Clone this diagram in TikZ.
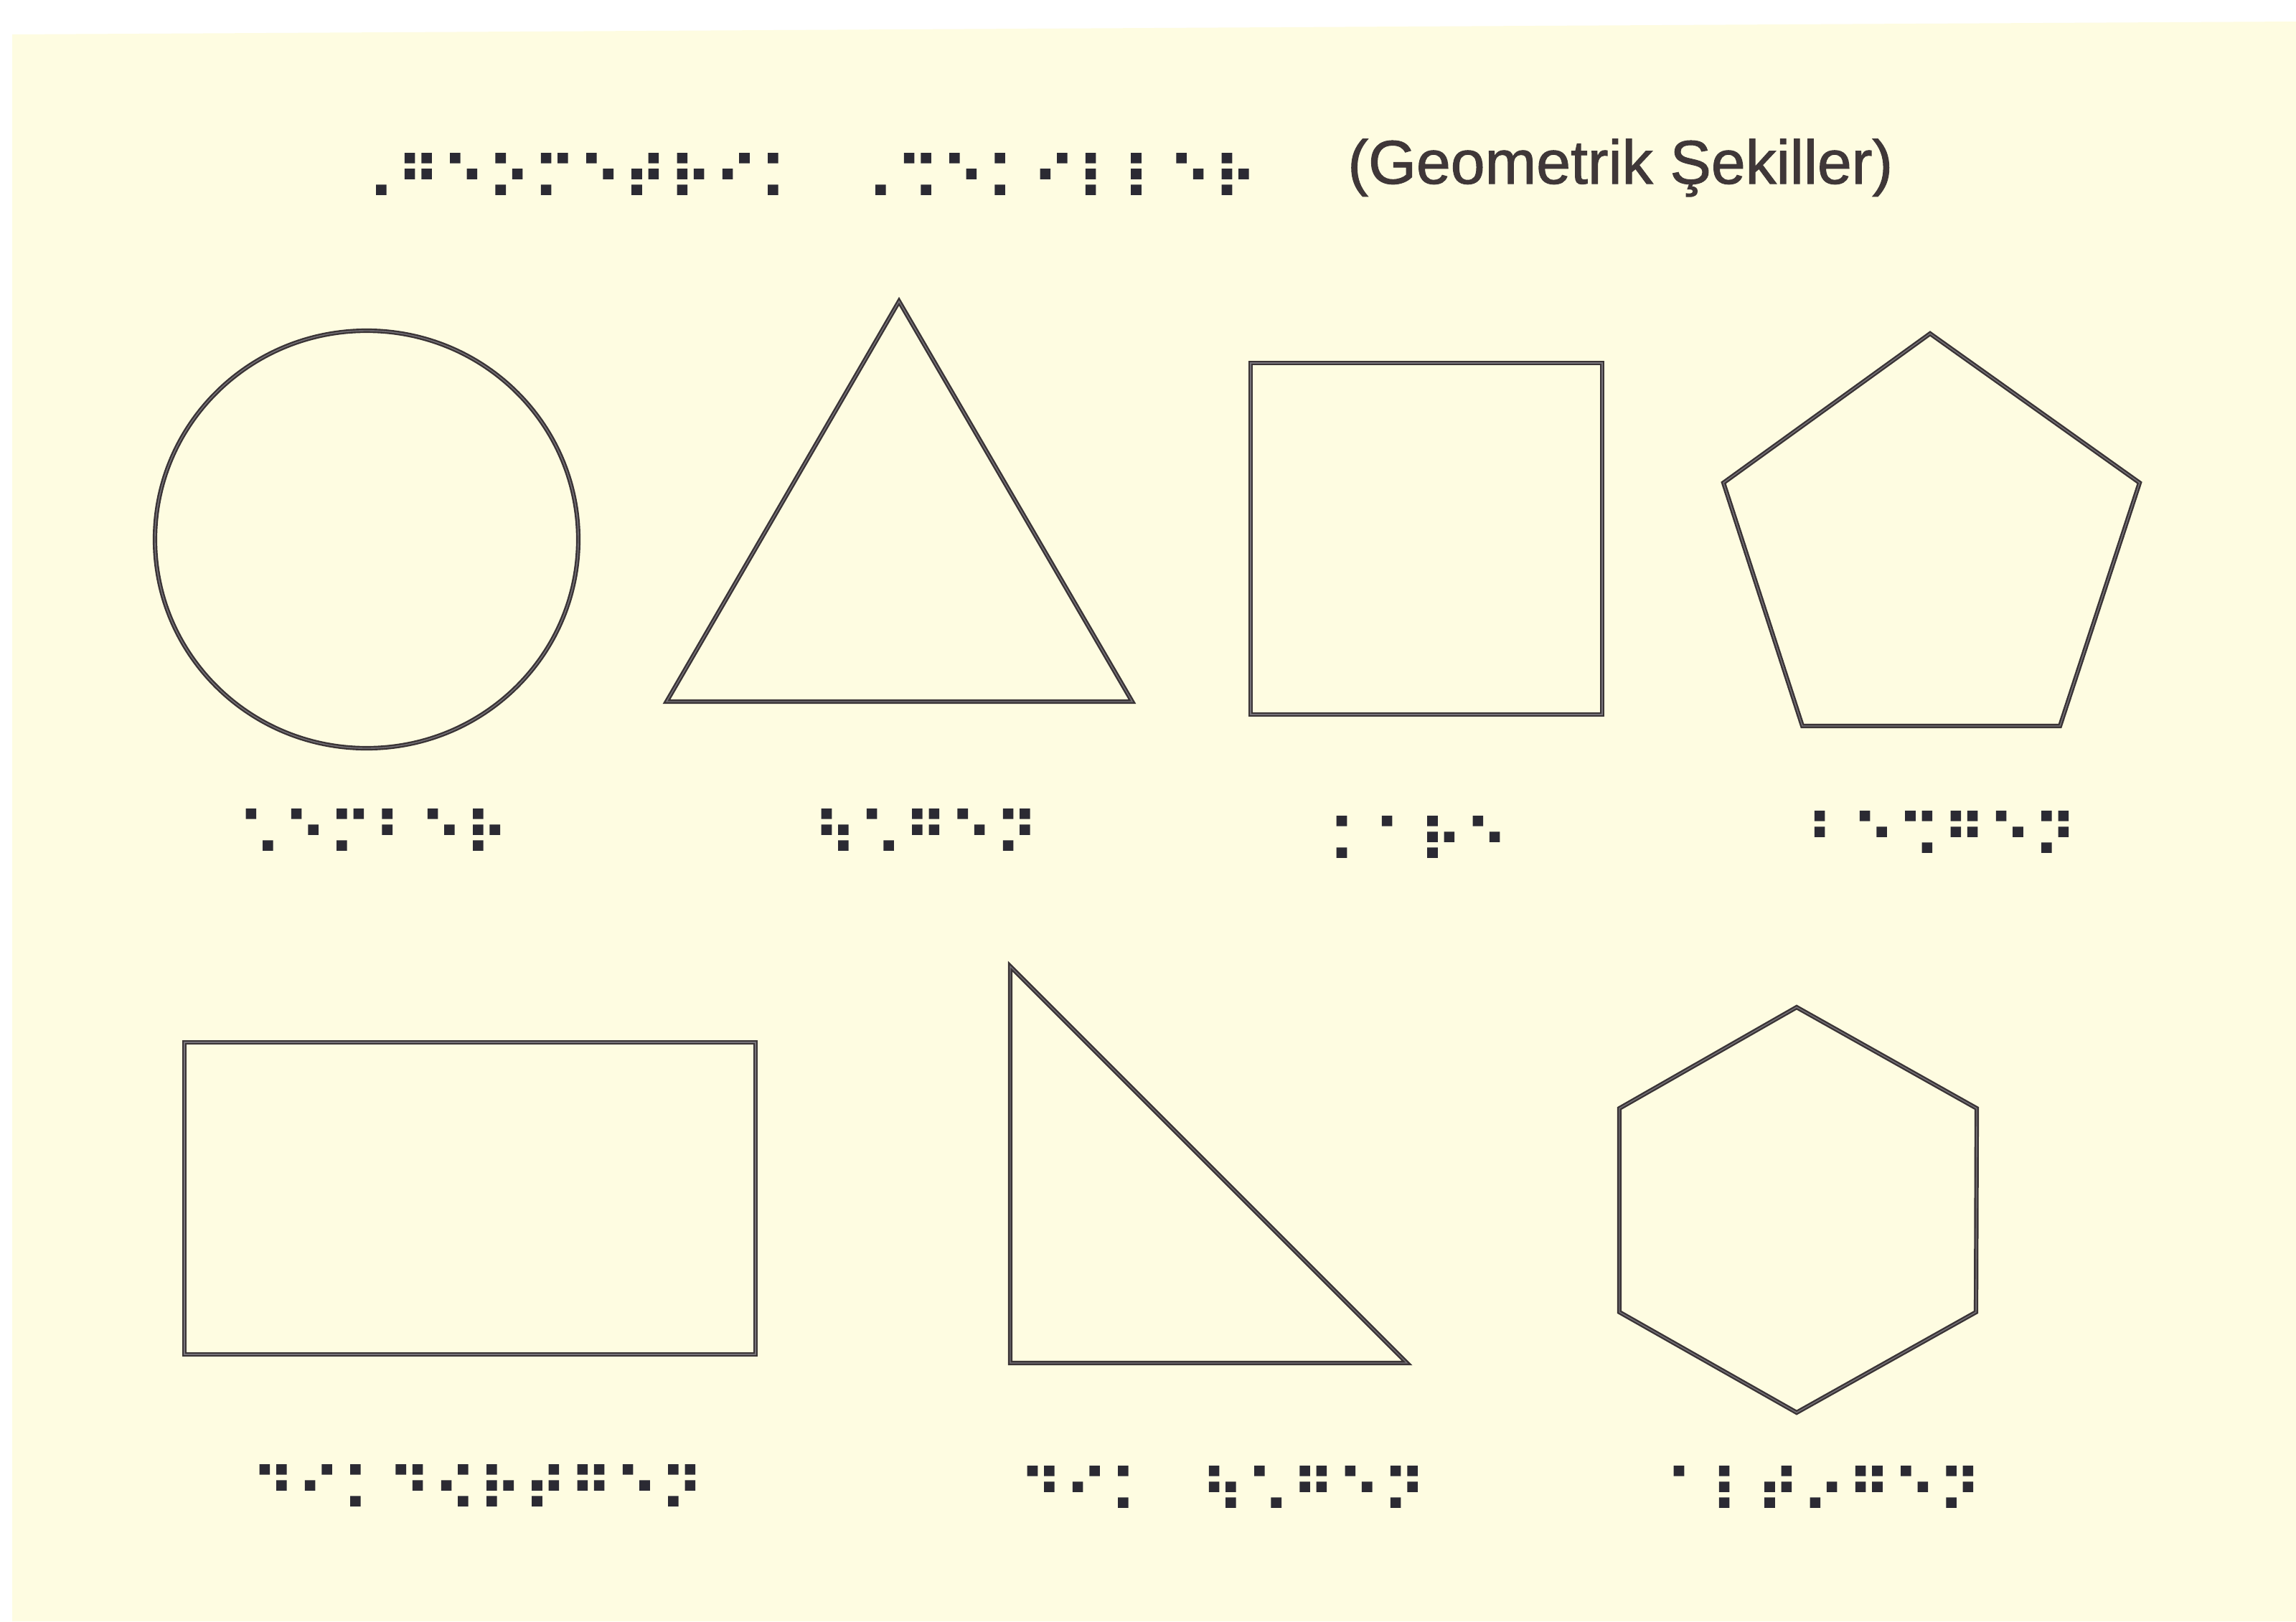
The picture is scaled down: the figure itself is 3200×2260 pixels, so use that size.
\documentclass[tikz,border=0pt]{standalone}
\usepackage{fontspec}
\setmainfont{Liberation Sans}
\newfontfamily\brlfont{DejaVu Sans}[FakeBold=3.5]
\newfontfamily\titlefont{Liberation Sans}[FakeBold=1.2]
\definecolor{paper}{HTML}{FEFCE1}
\definecolor{linedark}{HTML}{3A3436}
\definecolor{linemid}{HTML}{77737A}
\definecolor{titlecol}{HTML}{3F3738}
\definecolor{dotcol}{HTML}{2B2A33}
\newlength\brlpitch
\setlength\brlpitch{31.65pt}
\def\brl#1{\brlloop#1\relax}
\def\brlloop#1{\ifx\relax#1\else\makebox[\brlpitch][l]{#1}\expandafter\brlloop\fi}
\tikzset{
  shapeline/.style={draw=linedark, line width=1.2pt, double=linemid, double distance=0.7pt, line join=miter},
  brltext/.style={anchor=base west, inner sep=0pt, text=dotcol, font=\brlfont\fontsize{40pt}{40pt}\selectfont},
  titletext/.style={anchor=base west, inner sep=0pt, text=titlecol, font=\titlefont\fontsize{43pt}{43pt}\selectfont}
}
\begin{document}
\begin{tikzpicture}[x=0.5pt, y=-0.5pt]
\useasboundingbox (0,0) rectangle (3200,2260);
\fill[white] (0,0) rectangle (3200,2260);
\fill[paper] (17,48) -- (3200,30) -- (3200,2260) -- (17,2260) -- cycle;
% title
\node[brltext] (brltitle) at (490,277) {\brl{⠠⠛⠑⠕⠍⠑⠞⠗⠊⠅⠀⠠⠩⠑⠅⠊⠇⠇⠑⠗}};
\node[titletext] (title) at (1878,256) {(Geometrik Şekiller)};
% shapes
\draw[shapeline] (511,752) ellipse [x radius=147.5pt, y radius=145.5pt];
\draw[shapeline] (1253,420) -- (1578,978) -- (929,978) -- cycle;
\draw[shapeline] (1743,506) rectangle (2233,996);
\draw[shapeline] (2690,465) -- (2982,673) -- (2871,1012) -- (2512,1012) -- (2402,673) -- cycle;
\draw[shapeline] (257,1453) rectangle (1053,1888);
\draw[shapeline] (1408,1347) -- (1961,1900) -- (1408,1900) -- cycle;
\draw[shapeline] (2504,1404) -- (2755,1545) -- (2754,1829) -- (2504,1969) -- (2257,1829) -- (2257,1545) -- cycle;
% braille labels
\node[brltext] (brlcember) at (332,1191) {\brl{⠡⠑⠍⠃⠑⠗}};
\node[brltext] (brlucgen) at (1134,1191) {\brl{⠳⠡⠛⠑⠝}};
\node[brltext] (brlkare) at (1852,1201) {\brl{⠅⠁⠗⠑}};
\node[brltext] (brlbesgen) at (2518,1194) {\brl{⠃⠑⠩⠛⠑⠝}};
\node[brltext] (brldikdortgen) at (351,2105) {\brl{⠙⠊⠅⠙⠪⠗⠞⠛⠑⠝}};
\node[brltext] (brldikucgen) at (1421,2107) {\brl{⠙⠊⠅⠀⠳⠡⠛⠑⠝}};
\node[brltext] (brlaltigen) at (2322,2107) {\brl{⠁⠇⠞⠔⠛⠑⠝}};
\end{tikzpicture}
\end{document}
